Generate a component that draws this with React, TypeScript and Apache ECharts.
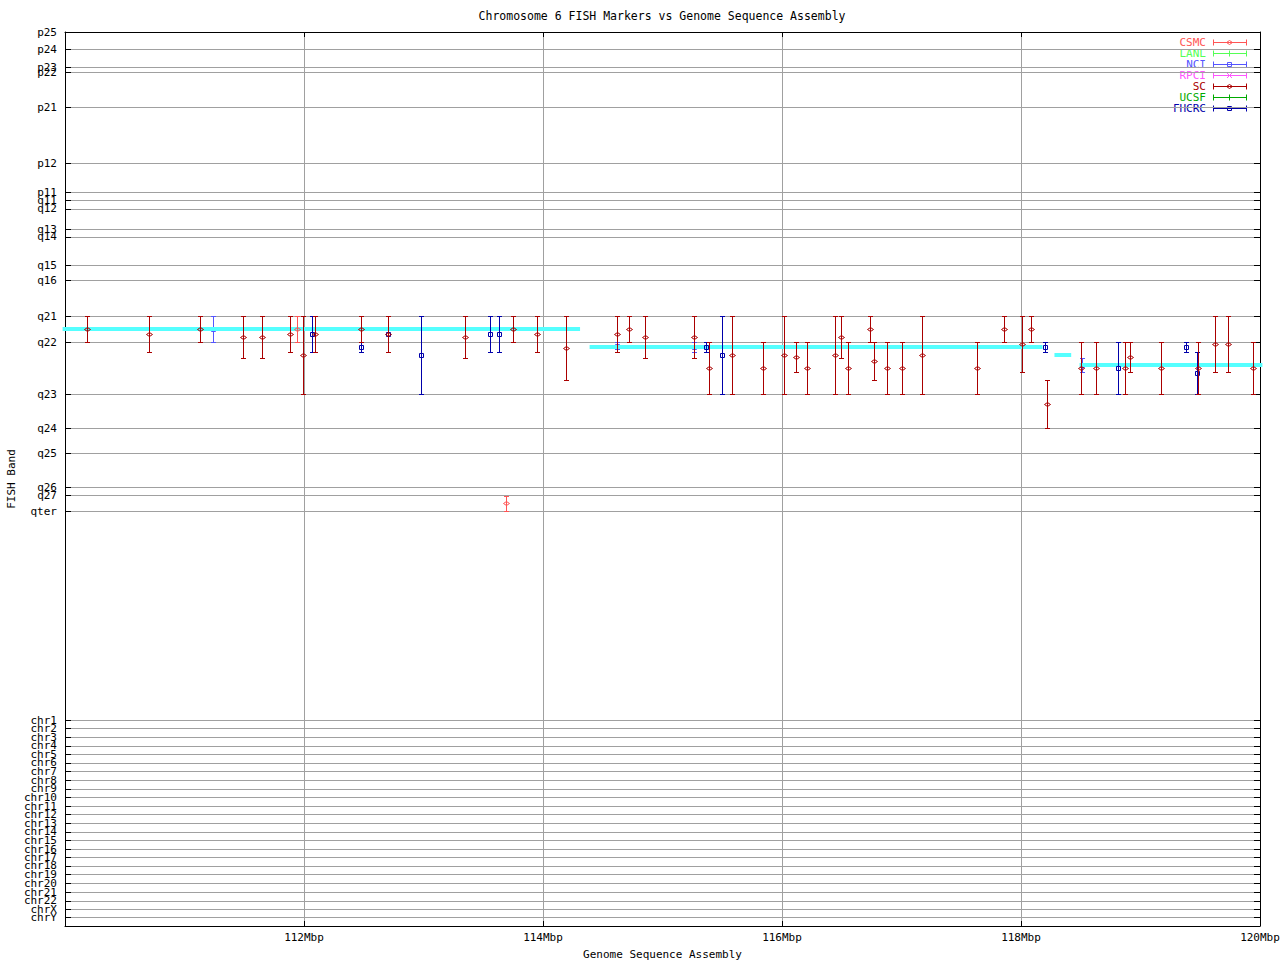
import React, { useEffect, useRef } from 'react';
import * as echarts from 'echarts';

// ---------- data ----------
const titleText = 'Chromosome 6 FISH Markers vs Genome Sequence Assembly';
const xTickLabels = ['112Mbp', '114Mbp', '116Mbp', '118Mbp', '120Mbp'];

// FISH band names and their coordinate on the band axis (0 = top of the plot)
const bandNames = [
  'p25', 'p24', 'p23', 'p22', 'p21', 'p12', 'p11', 'q11', 'q12', 'q13', 'q14', 'q15', 'q16',
  'q21', 'q22', 'q23', 'q24', 'q25', 'q26', 'q27', 'qter',
  'chr1', 'chr2', 'chr3', 'chr4', 'chr5', 'chr6', 'chr7', 'chr8', 'chr9', 'chr10', 'chr11', 'chr12',
  'chr13', 'chr14', 'chr15', 'chr16', 'chr17', 'chr18', 'chr19', 'chr20', 'chr21', 'chr22', 'chrX', 'chrY',
];
const bandPos = [
  0, 17.3, 35.3, 40.3, 75, 131, 160.3, 168, 176.7, 197.3, 204.7, 233, 248.3,
  284.3, 310.3, 362.3, 396.3, 421.3, 455.3, 463.3, 479.3,
  688, 696.3, 705, 713.7, 722, 730.7, 739, 748, 756.7, 765.3, 774, 782,
  791, 799.7, 808.3, 817, 825, 833.7, 842, 851, 860, 868.7, 877.3, 885.3,
];
const BAND_MAX = 894;

const labNames = ['CSMC', 'LANL', 'NCI', 'RPCI', 'SC', 'UCSF', 'FHCRC'];
const labColors = ['#ff5555', '#55ff55', '#5555ff', '#ff55ff', '#aa0000', '#00aa00', '#0000aa'];
const labMarkers = ['diamond', 'plus', 'square', 'cross', 'diamond', 'plus', 'square'];

// [position Mbp, upper band, point band, lower band]
const csmc = [
  [111.94, 284.3, 297.3, 310.3],
  [113.69, 463.7, 471.3, 479.3],
];
const nci = [
  [111.24, 284.3, 297.3, 310.3],
  [114.62, 310.3, 313.8, 317.3],
  [115.26, 310.3, 315.3, 320.3],
  [118.51, 326.3, 333.3, 340.3],
];
const fhcrc = [
  [112.07, 284.3, 302, 320.3],
  [112.48, 310.3, 315.3, 320.3],
  [112.7, 302, 302, 302],
  [112.98, 284.3, 323.3, 362.3],
  [113.56, 284.3, 302, 320.3],
  [113.63, 284.3, 302, 320.3],
  [115.36, 310.3, 315.3, 320.3],
  [115.5, 284.3, 323.3, 362.3],
  [118.2, 310.3, 315.3, 320.3],
  [118.81, 310.3, 336.3, 362.3],
  [119.38, 310.3, 315.3, 320.3],
  [119.47, 320.3, 341.3, 362.3],
];
const sc = [
  [110.18, 284.3, 297.3, 310.3],
  [110.7, 284.3, 302, 320.3],
  [111.13, 284.3, 297.3, 310.3],
  [111.49, 284.3, 305.3, 326.3],
  [111.65, 284.3, 305.3, 326.3],
  [111.88, 284.3, 302, 320.3],
  [111.99, 284.3, 323.3, 362.3],
  [112.09, 284.3, 302, 320.3],
  [112.48, 284.3, 297.3, 310.3],
  [112.7, 284.3, 302, 320.3],
  [113.35, 284.3, 305.3, 326.3],
  [113.75, 284.3, 297.3, 310.3],
  [113.95, 284.3, 302, 320.3],
  [114.19, 284.3, 316.3, 348.3],
  [114.62, 284.3, 302, 320.3],
  [114.72, 284.3, 297.3, 310.3],
  [114.85, 284.3, 305.3, 326.3],
  [115.26, 284.3, 305.3, 326.3],
  [115.39, 310.3, 336.3, 362.3],
  [115.58, 284.3, 323.3, 362.3],
  [115.84, 310.3, 336.3, 362.3],
  [116.02, 284.3, 323.3, 362.3],
  [116.12, 310.3, 325.3, 340.3],
  [116.21, 310.3, 336.3, 362.3],
  [116.44, 284.3, 323.3, 362.3],
  [116.49, 284.3, 305.3, 326.3],
  [116.55, 310.3, 336.3, 362.3],
  [116.74, 284.3, 297.3, 310.3],
  [116.77, 310.3, 329.3, 348.3],
  [116.88, 310.3, 336.3, 362.3],
  [117.0, 310.3, 336.3, 362.3],
  [117.17, 284.3, 323.3, 362.3],
  [117.63, 310.3, 336.3, 362.3],
  [117.86, 284.3, 297.3, 310.3],
  [118.01, 284.3, 312.3, 340.3],
  [118.08, 284.3, 297.3, 310.3],
  [118.22, 348.3, 372.3, 396.3],
  [118.5, 310.3, 336.3, 362.3],
  [118.63, 310.3, 336.3, 362.3],
  [118.87, 310.3, 336.3, 362.3],
  [118.91, 310.3, 325.3, 340.3],
  [119.17, 310.3, 336.3, 362.3],
  [119.48, 310.3, 336.3, 362.3],
  [119.62, 284.3, 312.3, 340.3],
  [119.73, 284.3, 312.3, 340.3],
  [119.94, 310.3, 336.3, 362.3],
];

// sequence assembly segments: [start Mbp, end Mbp, band]
const assembly = [
  [109.98, 114.31, 297.3],
  [114.39, 118.18, 315],
  [118.28, 118.42, 323],
  [118.49, 120.02, 333],
];
const assemblyColor = '#55ffff';

// ---------- helpers ----------
const FONT = '11px "DejaVu Sans Mono", monospace';

function marker(type: string, cx: number, cy: number, color: string): any {
  const style = { stroke: color, fill: 'none', lineWidth: 1 };
  if (type === 'diamond') {
    return { type: 'polygon', shape: { points: [[cx - 3, cy], [cx, cy - 2], [cx + 3, cy], [cx, cy + 2]] }, style };
  }
  if (type === 'square') {
    return { type: 'rect', shape: { x: cx - 2, y: cy - 2, width: 4, height: 4 }, style };
  }
  if (type === 'plus') {
    return {
      type: 'group',
      children: [
        { type: 'line', shape: { x1: cx, y1: cy - 3, x2: cx, y2: cy + 3 }, style },
        { type: 'line', shape: { x1: cx - 3, y1: cy, x2: cx + 3, y2: cy }, style },
      ],
    };
  }
  return {
    type: 'group',
    children: [
      { type: 'line', shape: { x1: cx - 2.5, y1: cy - 2.5, x2: cx + 2.5, y2: cy + 2.5 }, style },
      { type: 'line', shape: { x1: cx - 2.5, y1: cy + 2.5, x2: cx + 2.5, y2: cy - 2.5 }, style },
    ],
  };
}

function errorSeries(name: string, data: number[][], z: number): any {
  const i = labNames.indexOf(name);
  const color = labColors[i];
  const mk = labMarkers[i];
  return {
    type: 'custom',
    name,
    z,
    data,
    encode: { x: 0, y: [1, 2, 3] },
    renderItem: (params: any, api: any) => {
      const x = api.value(0);
      const pTop = api.coord([x, api.value(1)]);
      const pMid = api.coord([x, api.value(2)]);
      const pBot = api.coord([x, api.value(3)]);
      const cx = Math.round(pTop[0]) + 0.5;
      const y1 = Math.round(pTop[1]) + 0.5;
      const y2 = Math.round(pBot[1]) + 0.5;
      const ym = Math.round(pMid[1]) + 0.5;
      const ls = { stroke: color, lineWidth: 1, fill: 'none' };
      const children: any[] = [];
      if (y2 - y1 > 0.1) {
        children.push({ type: 'line', shape: { x1: cx, y1, x2: cx, y2 }, style: ls });
        children.push({ type: 'line', shape: { x1: cx - 2.5, y1, x2: cx + 2.5, y2: y1 }, style: ls });
        children.push({ type: 'line', shape: { x1: cx - 2.5, y1: y2, x2: cx + 2.5, y2 }, style: ls });
      }
      children.push(marker(mk, cx, ym, color));
      return { type: 'group', children };
    },
  };
}

function legendGraphic(): any[] {
  const out: any[] = [];
  labNames.forEach((name, i) => {
    const y = 42.5 + i * 11;
    const c = labColors[i];
    const ls = { stroke: c, lineWidth: 1, fill: 'none' };
    out.push({
      type: 'text',
      style: {
        text: name, x: 1206, y, font: FONT, fill: c,
        align: 'right', verticalAlign: 'middle', textAlign: 'right', textVerticalAlign: 'middle',
      },
    });
    out.push({ type: 'line', shape: { x1: 1213, y1: y, x2: 1247, y2: y }, style: ls });
    out.push({ type: 'line', shape: { x1: 1213.5, y1: y - 3, x2: 1213.5, y2: y + 3 }, style: ls });
    out.push({ type: 'line', shape: { x1: 1246.5, y1: y - 3, x2: 1246.5, y2: y + 3 }, style: ls });
    out.push(marker(labMarkers[i], 1229.5, y, c));
  });
  return out;
}

export default function App() {
  const ref = useRef<HTMLDivElement>(null);
  useEffect(() => {
    document.body.style.margin = '0';
    const chart = echarts.init(ref.current!, null, { renderer: 'svg' });
    const axisFont = { fontFamily: '"DejaVu Sans Mono", monospace', fontSize: 11, color: '#000' };
    const option: any = {
      animation: false,
      backgroundColor: '#ffffff',
      title: {
        text: titleText,
        left: 662,
        top: 10,
        padding: 0,
        textAlign: 'center',
        textStyle: { fontFamily: '"DejaVu Sans Mono", monospace', fontSize: 11.5, fontWeight: 'normal', color: '#000' },
      },
      grid: { left: 65, right: 20, top: 32, bottom: 34, containLabel: false, outerBoundsMode: 'none' },
      xAxis: [
        {
          type: 'value', min: 110, max: 120, interval: 2, position: 'bottom',
          name: 'Genome Sequence Assembly', nameLocation: 'middle', nameGap: 23,
          nameTextStyle: axisFont,
          axisLine: { show: true, onZero: false, lineStyle: { color: '#000', width: 1 } },
          axisTick: { show: true, inside: true, length: 5, lineStyle: { color: '#000' } },
          axisLabel: {
            ...axisFont, margin: 6,
            formatter: (v: number) => {
              const idx = Math.round((v - 112) / 2);
              return idx >= 0 && idx < xTickLabels.length ? xTickLabels[idx] : '';
            },
          },
          splitLine: { show: true, showMinLine: false, showMaxLine: false, lineStyle: { color: '#a0a0a0', width: 1 } },
        },
        {
          type: 'value', min: 110, max: 120, interval: 2, position: 'top',
          axisLine: { show: true, onZero: false, lineStyle: { color: '#000', width: 1 } },
          axisTick: { show: true, inside: true, length: 5, lineStyle: { color: '#000' } },
          axisLabel: { show: false },
          splitLine: { show: false },
        },
      ],
      yAxis: [
        {
          type: 'value', min: 0, max: BAND_MAX, inverse: true, position: 'left',
          name: 'FISH Band', nameLocation: 'middle', nameGap: 48, nameRotate: 90,
          nameTextStyle: axisFont,
          axisLine: { show: true, onZero: false, lineStyle: { color: '#000', width: 1 } },
          axisTick: { show: false }, axisLabel: { show: false }, splitLine: { show: false },
        },
        {
          type: 'value', min: 0, max: BAND_MAX, inverse: true, position: 'right',
          axisLine: { show: true, onZero: false, lineStyle: { color: '#000', width: 1 } },
          axisTick: { show: false }, axisLabel: { show: false }, splitLine: { show: false },
        },
      ],
      graphic: legendGraphic(),
      series: [
        {
          type: 'custom',
          name: 'bands',
          z: 1,
          data: bandPos.map((p) => [110, p]),
          encode: { x: 0, y: 1 },
          renderItem: (params: any, api: any) => {
            const cs = params.coordSys;
            const p = api.coord([110, api.value(1)]);
            const y = Math.round(p[1]) + 0.5;
            const x0 = cs.x;
            const x1 = cs.x + cs.width;
            const children: any[] = [];
            if (Math.abs(y - cs.y) > 1.5) {
              children.push({ type: 'line', shape: { x1: x0, y1: y, x2: x1, y2: y }, style: { stroke: '#a0a0a0', lineWidth: 1 } });
            }
            children.push({ type: 'line', shape: { x1: x0, y1: y, x2: x0 + 6, y2: y }, style: { stroke: '#000', lineWidth: 1 } });
            children.push({ type: 'line', shape: { x1: x1 - 6, y1: y, x2: x1, y2: y }, style: { stroke: '#000', lineWidth: 1 } });
            children.push({
              type: 'text',
              style: {
                text: bandNames[params.dataIndex], x: x0 - 8, y: p[1], font: FONT, fill: '#000',
                align: 'right', verticalAlign: 'middle', textAlign: 'right', textVerticalAlign: 'middle',
              },
            });
            return { type: 'group', children };
          },
        },
        errorSeries('NCI', nci, 3),
        {
          type: 'custom',
          name: 'assembly',
          z: 4,
          data: assembly,
          encode: { x: [0, 1], y: 2 },
          renderItem: (params: any, api: any) => {
            const a = api.coord([api.value(0), api.value(2)]);
            const b = api.coord([api.value(1), api.value(2)]);
            const y = Math.round(a[1]);
            return {
              type: 'rect',
              shape: { x: a[0], y: y - 2, width: b[0] - a[0], height: 4 },
              style: { fill: assemblyColor },
            };
          },
        },
        errorSeries('CSMC', csmc, 5),
        errorSeries('FHCRC', fhcrc, 6),
        errorSeries('SC', sc, 7),
      ],
    };
    chart.setOption(option);
    return () => chart.dispose();
  }, []);
  return <div ref={ref} style={{ position: 'absolute', left: 0, top: 0, width: 1280, height: 960 }} />;
}
